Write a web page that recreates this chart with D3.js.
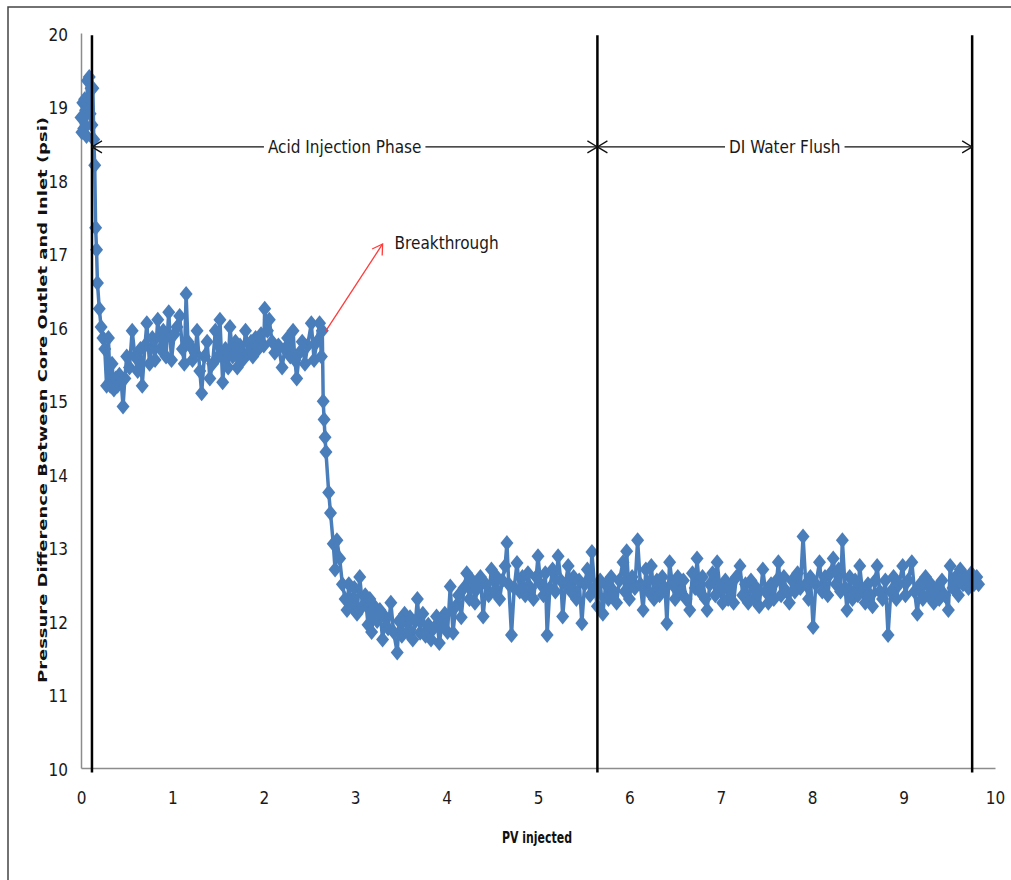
<!DOCTYPE html>
<html>
<head>
<meta charset="utf-8">
<script src="https://cdn.jsdelivr.net/npm/d3@7"></script>
<style>
  body { margin: 0; background: #fff; }
  .tick text { font-family: "Liberation Sans Narrow", "DejaVu Sans Condensed", sans-serif; font-size: 17px; fill: #1a1a1a; }
  .note { font-family: "Liberation Sans Narrow", "DejaVu Sans Condensed", sans-serif; font-size: 17px; fill: #1a1a1a; }
  .title { font-family: "DejaVu Sans", sans-serif; font-weight: bold; fill: #111; }
</style>
</head>
<body>
<div class="chart"></div>
<script>
const WIDTH = 1011;
const HEIGHT = 880;

// PV injected (x) and pressure difference in psi (y)
var pvInjected = [
  0.00, 0.01, 0.02, 0.03, 0.04, 0.05, 0.06, 0.07, 0.08, 0.09, 0.10, 0.11, 0.12, 0.13, 0.14, 0.15,
  0.16, 0.17, 0.18, 0.20, 0.22, 0.24, 0.26, 0.28, 0.30,
  0.32, 0.34, 0.36, 0.38, 0.40, 0.42, 0.44, 0.46, 0.48, 0.50, 0.53, 0.56, 0.59, 0.62, 0.65, 0.67,
  0.70, 0.72, 0.75, 0.78, 0.81, 0.84, 0.87, 0.90, 0.93, 0.96, 0.99, 1.02, 1.05, 1.08, 1.11, 1.13,
  1.15, 1.17, 1.19, 1.22, 1.25, 1.27, 1.30, 1.32, 1.35, 1.38, 1.41, 1.44, 1.47, 1.50, 1.52, 1.55,
  1.58, 1.61, 1.63, 1.66, 1.69, 1.71, 1.74, 1.77, 1.80, 1.83, 1.86, 1.88, 1.91, 1.94, 1.97, 2.00,
  2.01, 2.04, 2.06, 2.09, 2.12, 2.16, 2.20, 2.23, 2.26, 2.29, 2.32, 2.34, 2.36, 2.39, 2.42, 2.45,
  2.48, 2.52, 2.55, 2.58, 2.61, 2.63, 2.64,
  2.65, 2.66, 2.67, 2.68, 2.71, 2.73, 2.76, 2.78, 2.80, 2.83,
  2.86, 2.89, 2.91, 2.93, 2.96, 2.99, 3.02, 3.05, 3.08, 3.11, 3.14, 3.16, 3.18, 3.21, 3.24, 3.27,
  3.30, 3.33, 3.36, 3.39, 3.42, 3.46, 3.48, 3.51, 3.54, 3.57, 3.60, 3.63, 3.66, 3.68, 3.71, 3.74,
  3.77, 3.80, 3.83, 3.86, 3.89, 3.92, 3.95, 3.98, 4.01, 4.04, 4.07, 4.10, 4.13, 4.16, 4.19, 4.22,
  4.25, 4.28, 4.31, 4.34, 4.37, 4.40, 4.43, 4.46, 4.49, 4.52, 4.55, 4.58, 4.61, 4.64, 4.66, 4.68,
  4.71, 4.74, 4.77, 4.80, 4.83, 4.86, 4.89, 4.92, 4.95, 4.98, 5.00, 5.03, 5.06, 5.08, 5.10, 5.13,
  5.16, 5.19, 5.22, 5.25, 5.27, 5.30, 5.33, 5.36, 5.39, 5.42, 5.45, 5.48, 5.51, 5.54, 5.57, 5.59,
  5.62, 5.65, 5.68,
  5.71, 5.74, 5.77, 5.80, 5.83, 5.86, 5.89, 5.93, 5.95, 5.97, 6.00, 6.03, 6.06, 6.09, 6.12, 6.15,
  6.18, 6.21, 6.24, 6.27, 6.30, 6.33, 6.36, 6.39, 6.41, 6.44, 6.47, 6.50, 6.53, 6.56, 6.59, 6.62,
  6.66, 6.69, 6.72, 6.74, 6.77, 6.80, 6.83, 6.85, 6.88, 6.91, 6.94, 6.96, 6.99, 7.02, 7.05, 7.08,
  7.11, 7.14, 7.17, 7.21, 7.24, 7.27, 7.30, 7.33, 7.36, 7.39, 7.42, 7.46, 7.49, 7.52, 7.55, 7.58,
  7.61, 7.63, 7.66, 7.69, 7.72, 7.75, 7.78, 7.81, 7.84, 7.87, 7.90, 7.93, 7.96, 7.98, 8.01, 8.04,
  8.08, 8.11, 8.14, 8.17, 8.20, 8.23, 8.26, 8.29, 8.31, 8.33, 8.36, 8.38, 8.41, 8.44, 8.47, 8.50,
  8.52, 8.55, 8.58, 8.61, 8.64, 8.66, 8.69, 8.71, 8.74, 8.77, 8.80, 8.83, 8.86, 8.89, 8.92, 8.95,
  8.99, 9.02, 9.05, 9.09, 9.12, 9.15, 9.18, 9.21, 9.24, 9.27, 9.30, 9.33, 9.36, 9.39, 9.42, 9.45,
  9.49, 9.51, 9.54, 9.57, 9.60, 9.62, 9.65, 9.68, 9.71, 9.74, 9.77, 9.80, 9.82
];

var pressureDiff = [
  18.85, 18.65, 19.05, 18.70, 19.10, 18.95, 18.60, 19.35, 19.00, 19.40, 18.90, 19.25, 18.75, 19.25, 18.55, 18.20,
  17.35, 17.05, 16.60, 16.25, 16.00, 15.85, 15.70, 15.20, 15.85,
  15.20, 15.50, 15.15, 15.30, 15.20, 15.35, 15.25, 14.92, 15.30, 15.60, 15.45, 15.95, 15.60, 15.40, 15.70, 15.20,
  15.75, 16.05, 15.50, 15.85, 15.55, 16.10, 15.70, 15.95, 15.60, 16.20, 15.55, 15.90, 16.00, 16.15, 15.70, 15.50,
  16.45, 15.80, 15.75, 15.55, 15.65, 15.95, 15.40, 15.10, 15.60, 15.80, 15.30, 15.50, 15.95, 15.60, 16.10, 15.25,
  15.70, 15.45, 16.00, 15.60, 15.80, 15.45, 15.75, 15.55, 15.95, 15.65, 15.80, 15.60, 15.85, 15.70, 15.90, 15.75,
  16.25, 15.95, 16.10, 15.80, 15.65, 15.75, 15.45, 15.70, 15.85, 15.60, 15.95, 15.55, 15.30, 15.65, 15.80, 15.50,
  15.75, 16.05, 15.55, 15.80, 16.05, 15.60, 15.95,
  14.99, 14.74, 14.50, 14.30, 13.75, 13.47, 13.05, 12.70, 13.10, 12.85,
  12.50, 12.30, 12.15, 12.50, 12.20, 12.45, 12.10, 12.60, 12.20, 12.35, 11.95, 12.30, 11.85, 12.20, 12.00, 12.15,
  11.75, 12.05, 11.90, 12.25, 11.85, 11.57, 12.00, 11.80, 12.10, 11.85, 12.05, 11.75, 12.00, 12.30, 11.84, 12.10,
  11.80, 11.95, 11.75, 11.90, 12.06, 11.70, 11.95, 12.10, 11.85, 12.47, 11.84, 12.20, 12.35, 12.05, 12.45, 12.65,
  12.30, 12.55, 12.25, 12.45, 12.60, 12.06, 12.50, 12.35, 12.70, 12.40, 12.60, 12.30, 12.55, 12.75, 13.06, 12.50,
  11.81, 12.45, 12.79, 12.40, 12.60, 12.35, 12.65, 12.45, 12.30, 12.60, 12.88, 12.50, 12.35, 12.65, 11.81, 12.45,
  12.70, 12.40, 12.88, 12.55, 12.06, 12.50, 12.75, 12.40, 12.60, 12.30, 12.55, 11.97, 12.50, 12.70, 12.35, 12.94,
  12.45, 12.20, 12.55,
  12.10, 12.50, 12.30, 12.60, 12.40, 12.25, 12.55, 12.80, 12.40, 12.95, 12.30, 12.60, 12.45, 13.10, 12.50, 12.15,
  12.70, 12.40, 12.75, 12.30, 12.55, 12.35, 12.60, 12.45, 11.97, 12.80, 12.50, 12.30, 12.60, 12.40, 12.55, 12.30,
  12.15, 12.65, 12.45, 12.85, 12.40, 12.60, 12.30, 12.15, 12.50, 12.65, 12.35, 12.80, 12.45, 12.25, 12.55, 12.30,
  12.50, 12.25, 12.60, 12.75, 12.35, 12.50, 12.25, 12.55, 12.30, 12.45, 12.20, 12.70, 12.40, 12.25, 12.50, 12.30,
  12.55, 12.80, 12.35, 12.60, 12.40, 12.25, 12.55, 12.40, 12.65, 12.45, 13.15, 12.50, 12.30, 12.60, 11.92, 12.50,
  12.80, 12.40, 12.60, 12.35, 12.65, 12.85, 12.50, 12.70, 12.40, 13.10, 12.45, 12.15, 12.60, 12.30, 12.55, 12.35,
  12.75, 12.40, 12.25, 12.50, 12.35, 12.20, 12.55, 12.75, 12.40, 12.30, 12.55, 11.81, 12.40, 12.60, 12.30, 12.50,
  12.75, 12.35, 12.55, 12.80, 12.40, 12.10, 12.50, 12.30, 12.60, 12.35, 12.50, 12.25, 12.45, 12.30, 12.55, 12.35,
  12.15, 12.75, 12.45, 12.60, 12.35, 12.70, 12.50, 12.60, 12.45, 12.65, 12.50, 12.60, 12.50
];

var xTicks = [0, 1, 2, 3, 4, 5, 6, 7, 8, 9, 10];
var yTicks = [10, 11, 12, 13, 14, 15, 16, 17, 18, 19, 20];

// phase boundaries (PV) and labels
var phaseLines = [0.12, 5.65, 9.75];
var phaseNames = ["Acid Injection Phase", "DI Water Flush"];
var phaseLevel = 18.45;

var breakthrough = { from: [2.67, 15.93], to: [3.30, 17.13], text: "Breakthrough" };

var xScale = d3.scaleLinear().domain([0, 10]).range([81, 995]);
var yScale = d3.scaleLinear().domain([10, 20]).range([768, 33]);

var translate = function (x, y) {
    return "translate(" + x + "," + y + ")";
};

var svg = d3.select('.chart').append('svg')
    .attr('width', WIDTH)
    .attr('height', HEIGHT);

var defs = svg.append('defs');
var addArrow = function (id, color) {
    defs.append('marker')
        .attr('id', id)
        .attr('viewBox', '-12 -8 14 16')
        .attr('markerWidth', 14)
        .attr('markerHeight', 16)
        .attr('markerUnits', 'userSpaceOnUse')
        .attr('refX', 0)
        .attr('refY', 0)
        .attr('orient', 'auto-start-reverse')
        .append('path')
        .attr('d', 'M-10,-6L0,0L-10,6')
        .attr('fill', 'none')
        .attr('stroke', color)
        .attr('stroke-width', 1.3);
};
addArrow('arrowBlack', '#111');
addArrow('arrowRed', '#ff3b3b');

// outer frame
svg.append('rect')
    .attr('x', 8).attr('y', 7)
    .attr('width', WIDTH).attr('height', HEIGHT)
    .attr('fill', 'none')
    .attr('stroke', '#444')
    .attr('stroke-width', 1.5);

// axes
var xAxis = d3.axisBottom(xScale).tickValues(xTicks).tickSize(0).tickPadding(24).tickFormat(d3.format('d'));
var yAxis = d3.axisLeft(yScale).tickValues(yTicks).tickSize(0).tickPadding(13).tickFormat(d3.format('d'));

svg.append('g')
    .attr('transform', translate(0, 768))
    .call(xAxis)
    .call(function (g) { g.select('.domain').attr('stroke', '#8c8c8c').attr('stroke-width', 1.5); });

svg.append('g')
    .attr('transform', translate(81, 0))
    .call(yAxis)
    .call(function (g) { g.select('.domain').attr('stroke', '#8c8c8c').attr('stroke-width', 1.5); })
    .selectAll('text').attr('dy', '0.42em');

// series
var points = d3.zip(pvInjected, pressureDiff);

var line = d3.line()
    .x(function (q) { return xScale(q[0]); })
    .y(function (q) { return yScale(q[1]); });

svg.append('path')
    .datum(points)
    .attr('d', line)
    .attr('fill', 'none')
    .attr('stroke', '#4a7ebb')
    .attr('stroke-width', 3.5)
    .attr('stroke-linejoin', 'round');

svg.append('g').selectAll('path')
    .data(points)
    .enter().append('path')
    .attr('d', 'M0,-8L6.5,0L0,8L-6.5,0Z')
    .attr('transform', function (q) { return translate(xScale(q[0]), yScale(q[1])); })
    .attr('fill', '#4a7ebb');

// phase separators
svg.append('g').selectAll('line')
    .data(phaseLines)
    .enter().append('line')
    .attr('x1', function (d) { return xScale(d); })
    .attr('x2', function (d) { return xScale(d); })
    .attr('y1', yScale(19.97))
    .attr('y2', yScale(9.94))
    .attr('stroke', '#000')
    .attr('stroke-width', 2.5);

// double arrows with labels
phaseNames.forEach(function (name, i) {
    var x0 = xScale(phaseLines[i]), x1 = xScale(phaseLines[i + 1]), y = yScale(phaseLevel);
    svg.append('line')
        .attr('x1', x0).attr('x2', x1)
        .attr('y1', y).attr('y2', y)
        .attr('stroke', '#111')
        .attr('stroke-width', 1.3)
        .attr('marker-start', 'url(#arrowBlack)')
        .attr('marker-end', 'url(#arrowBlack)');
    var t = svg.append('text')
        .attr('class', 'note')
        .attr('x', (x0 + x1) / 2)
        .attr('y', y + 6)
        .attr('text-anchor', 'middle')
        .text(name);
    var b = t.node().getBBox();
    svg.insert('rect', function () { return t.node(); })
        .attr('x', b.x - 4).attr('y', b.y)
        .attr('width', b.width + 8).attr('height', b.height)
        .attr('fill', '#fff');
});

// breakthrough annotation
svg.append('line')
    .attr('x1', xScale(breakthrough.from[0]))
    .attr('y1', yScale(breakthrough.from[1]))
    .attr('x2', xScale(breakthrough.to[0]))
    .attr('y2', yScale(breakthrough.to[1]))
    .attr('stroke', '#ff3b3b')
    .attr('stroke-width', 1.3)
    .attr('marker-end', 'url(#arrowRed)');

svg.append('text')
    .attr('class', 'note')
    .attr('x', xScale(breakthrough.to[0]) + 12)
    .attr('y', yScale(breakthrough.to[1]) + 5)
    .text(breakthrough.text);

// axis titles
svg.append('text')
    .attr('class', 'title')
    .attr('x', 537)
    .attr('y', 843)
    .attr('text-anchor', 'middle')
    .attr('font-family', '"Liberation Sans", sans-serif')
    .attr('font-size', 15)
    .attr('textLength', 70)
    .attr('lengthAdjust', 'spacingAndGlyphs')
    .text('PV injected');

svg.append('text')
    .attr('class', 'title')
    .attr('transform', translate(47, 400) + ' rotate(-90)')
    .attr('text-anchor', 'middle')
    .attr('font-size', 13)
    .attr('textLength', 566)
    .attr('lengthAdjust', 'spacingAndGlyphs')
    .text('Pressure Difference Between  Core Outlet and  Inlet (psi)');
</script>
</body>
</html>
